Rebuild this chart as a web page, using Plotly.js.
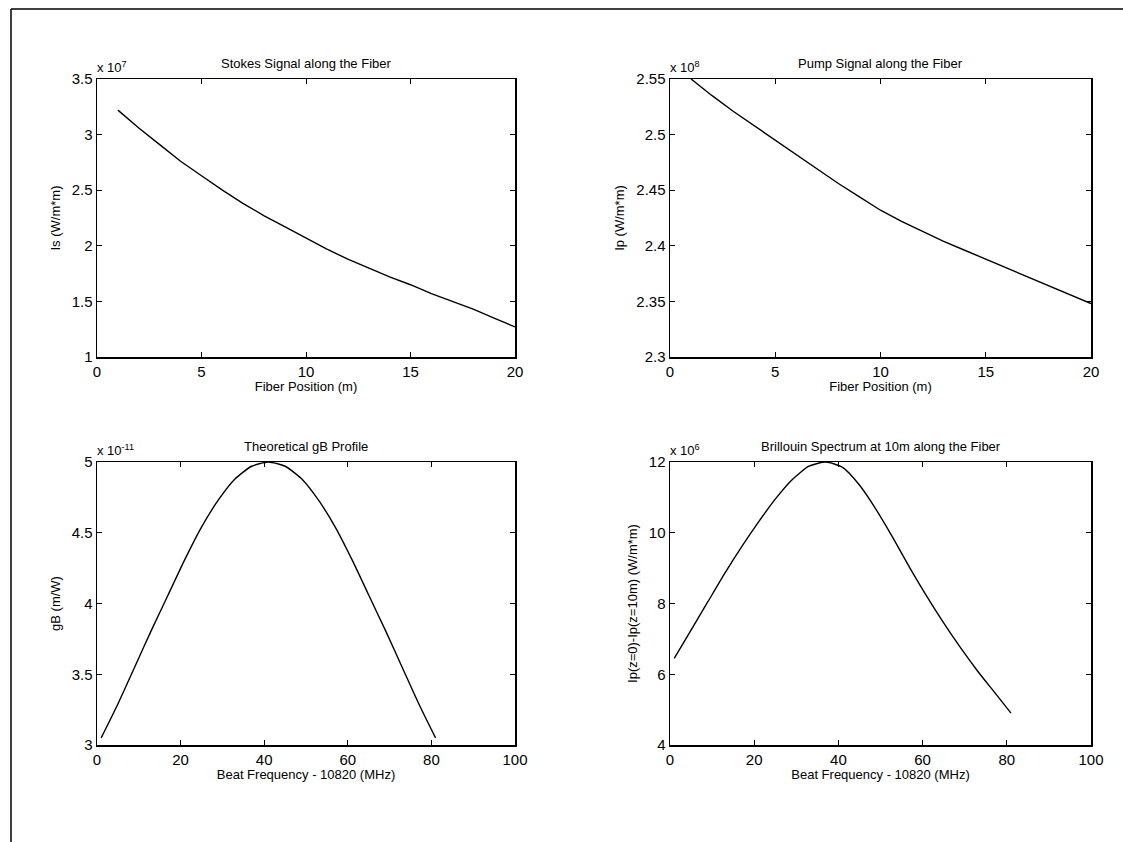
<!DOCTYPE html>
<html>
<head>
<meta charset="utf-8">
<script src="https://cdn.plot.ly/plotly-3.0.1.min.js"></script>
<style>
html,body{margin:0;padding:0;background:#fff;}
#chart{width:1123px;height:842px;}
</style>
</head>
<body>
<div id="chart"></div>
<script>
// ---- Data (values in units of the axis exponent shown on each panel) ----
// Stokes signal along the fiber, Is (x 10^7 W/m*m)
const fiberPos = [1,2,3,4,5,6,7,8,9,10,11,12,13,14,15,16,17,18,19,20];
const stokesIs = [3.22,3.06,2.91,2.76,2.63,2.50,2.38,2.27,2.17,2.07,1.97,1.88,1.80,1.72,1.65,1.57,1.50,1.43,1.35,1.27];
// Pump signal along the fiber, Ip (x 10^8 W/m*m)
const pumpIp = [2.550,2.535,2.521,2.508,2.495,2.482,2.469,2.456,2.444,2.432,2.422,2.413,2.404,2.396,2.388,2.380,2.372,2.364,2.356,2.348];
// Beat frequency offset (MHz)
const beatFreq = [1,5,9,13,17,21,25,29,33,37,41,45,49,53,57,61,65,69,73,77,81];
// Theoretical gB profile (x 10^-11 m/W)
const gBprofile = [3.05,3.29,3.55,3.81,4.06,4.31,4.54,4.73,4.88,4.97,5.00,4.97,4.88,4.73,4.54,4.31,4.06,3.81,3.55,3.29,3.05];
// Brillouin spectrum at 10 m, Ip(z=0)-Ip(z=10m) (x 10^6 W/m*m)
const brillouin = [6.45,7.25,8.05,8.85,9.60,10.30,10.95,11.50,11.88,12.00,11.85,11.35,10.65,9.85,9.00,8.20,7.45,6.75,6.10,5.50,4.90];

const panelTitles = ["Stokes Signal along the Fiber","Pump Signal along the Fiber","Theoretical gB Profile","Brillouin Spectrum at 10m along the Fiber"];
const xTitles = ["Fiber Position (m)","Fiber Position (m)","Beat Frequency - 10820 (MHz)","Beat Frequency - 10820 (MHz)"];
const yTitles = ["Is (W/m*m)","Ip (W/m*m)","gB (m/W)","Ip(z=0)-Ip(z=10m) (W/m*m)"];
const exponents = ["7","8","-11","6"];
const yTickVals = [[1,1.5,2,2.5,3,3.5],[2.3,2.35,2.4,2.45,2.5,2.55],[3,3.5,4,4.5,5],[4,6,8,10,12]];
const yTickText = [["1","1.5","2","2.5","3","3.5"],["2.3","2.35","2.4","2.45","2.5","2.55"],["3","3.5","4","4.5","5"],["4","6","8","10","12"]];

// ---- Layout geometry (pixels) ----
const W = 1123, H = 842;
const boxes = [
  {x0:97, x1:515, y0:79, y1:357},
  {x0:670, x1:1091, y0:79, y1:357},
  {x0:97, x1:515, y0:462, y1:745},
  {x0:670, x1:1091, y0:462, y1:745}
];
const fx = p => p / W;
const fy = p => 1 - p / H;

const font = {family: "Liberation Sans, Arial, sans-serif", color: "#000"};

const traces = [
  {x: fiberPos, y: stokesIs, xaxis: "x", yaxis: "y"},
  {x: fiberPos, y: pumpIp, xaxis: "x2", yaxis: "y2"},
  {x: beatFreq, y: gBprofile, xaxis: "x3", yaxis: "y3", line:{shape:"spline", smoothing:0.6}},
  {x: beatFreq, y: brillouin, xaxis: "x4", yaxis: "y4", line:{shape:"spline", smoothing:0.6}}
].map(t => Object.assign({type: "scatter", mode: "lines", showlegend: false,
  hoverinfo: "skip"}, t, {line: Object.assign({color: "#000", width: 1.4}, t.line || {})}));

const layout = {
  width: W, height: H,
  margin: {l: 0, r: 0, t: 0, b: 0},
  paper_bgcolor: "#fff", plot_bgcolor: "#fff",
  showlegend: false,
  font: Object.assign({size: 13}, font),
  annotations: [],
  shapes: [
    {type: "line", xref: "paper", yref: "paper", x0: fx(11), x1: fx(11), y0: fy(9), y1: fy(842), line: {color: "#000", width: 1.5}},
    {type: "line", xref: "paper", yref: "paper", x0: fx(11), x1: fx(1123), y0: fy(9), y1: fy(9), line: {color: "#000", width: 1.5}}
  ]
};

const xRanges = [[0,20],[0,20],[0,100],[0,100]];
const xTicks = [[0,5,10,15,20],[0,5,10,15,20],[0,20,40,60,80,100],[0,20,40,60,80,100]];
const yRanges = [[1,3.5],[2.3,2.55],[3,5],[4,12]];

boxes.forEach((b, i) => {
  const sfx = i === 0 ? "" : String(i + 1);
  const common = {
    showline: true, linecolor: "#000", linewidth: 1.5, mirror: "allticks",
    ticks: "inside", ticklen: 5, tickwidth: 1, tickcolor: "#000",
    showgrid: false, zeroline: false, fixedrange: true,
    tickfont: Object.assign({size: 15}, font)
  };
  layout["xaxis" + sfx] = Object.assign({}, common, {
    domain: [fx(b.x0), fx(b.x1)], range: xRanges[i],
    tickvals: xTicks[i], ticktext: xTicks[i].map(String),
    anchor: "y" + sfx,
    title: {text: xTitles[i], font: Object.assign({size: 13}, font), standoff: 3}
  });
  layout["yaxis" + sfx] = Object.assign({}, common, {
    domain: [fy(b.y1), fy(b.y0)], range: yRanges[i],
    tickvals: yTickVals[i], ticktext: yTickText[i],
    anchor: "x" + sfx,
    title: {text: yTitles[i], font: Object.assign({size: 13}, font), standoff: 8}
  });
  // panel title
  layout.annotations.push({
    xref: "paper", yref: "paper", x: fx((b.x0 + b.x1) / 2), y: fy(b.y0 - 6),
    xanchor: "center", yanchor: "bottom", showarrow: false,
    text: panelTitles[i], font: Object.assign({size: 13}, font)
  });
  // exponent label
  layout.annotations.push({
    xref: "paper", yref: "paper", x: fx(b.x0 - 2), y: fy(b.y0 - 2),
    xanchor: "left", yanchor: "bottom", showarrow: false,
    text: "x 10<sup>" + exponents[i] + "</sup>", font: Object.assign({size: 13}, font)
  });
});

Plotly.newPlot("chart", traces, layout, {staticPlot: true, displayModeBar: false});
</script>
</body>
</html>
